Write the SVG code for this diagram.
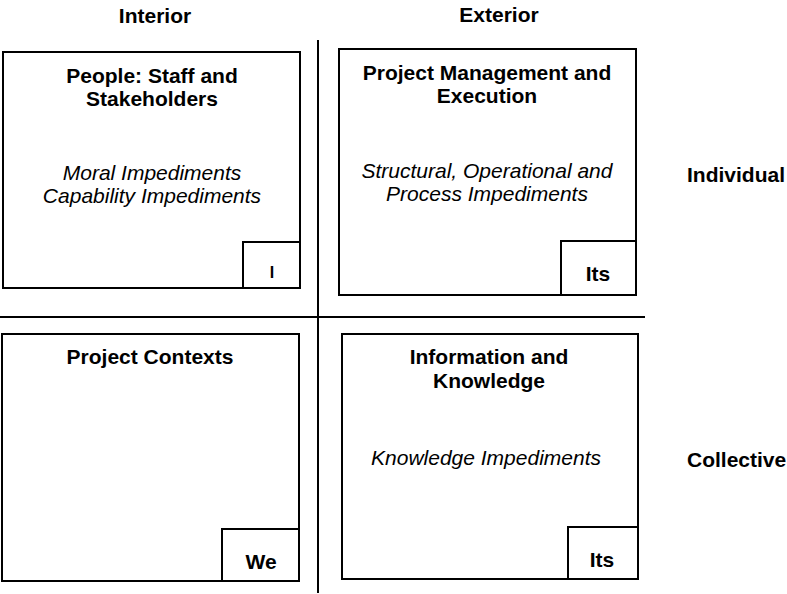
<svg xmlns="http://www.w3.org/2000/svg" width="787" height="594" viewBox="0 0 787 594">
<style>
.box{fill:#fff;stroke:#000;stroke-width:2}
.ln{stroke:#000;stroke-width:2;fill:none}
text{font-family:"Liberation Sans",Arial,sans-serif;font-size:21px;fill:#000;text-anchor:middle}
.b{font-weight:bold}
.i{font-style:italic}
.l{text-anchor:start}
</style>
<rect width="787" height="594" fill="#fff"/>
<g id="axes">
<text class="b" x="155" y="23">Interior</text>
<text class="b" x="499" y="22">Exterior</text>
<text class="b l" x="687" y="182">Individual</text>
<text class="b l" x="687" y="467">Collective</text>
</g>
<g id="connectors">
<line class="ln" x1="318" y1="40" x2="318" y2="593"/>
<line class="ln" x1="0" y1="317" x2="645" y2="317"/>
</g>
<g id="node-i">
<rect class="box" x="3" y="52" width="297" height="236"/>
<text class="b" x="152" y="83">People: Staff and</text>
<text class="b" x="152" y="106">Stakeholders</text>
<text class="i" x="152" y="180">Moral Impediments</text>
<text class="i" x="152" y="203">Capability Impediments</text>
<rect class="box" x="243" y="242" width="57" height="46"/>
<text class="b" x="272" y="278" style="font-size:16px">I</text>
</g>
<g id="node-its-top">
<rect class="box" x="339" y="49" width="297" height="246"/>
<text class="b" x="487" y="80">Project Management and</text>
<text class="b" x="487" y="103">Execution</text>
<text class="i" x="487" y="178">Structural, Operational and</text>
<text class="i" x="487" y="201">Process Impediments</text>
<rect class="box" x="561" y="241" width="75" height="54"/>
<text class="b" x="598" y="281">Its</text>
</g>
<g id="node-we">
<rect class="box" x="2" y="334" width="297" height="247"/>
<text class="b" x="150" y="364">Project Contexts</text>
<rect class="box" x="222" y="529" width="77" height="52"/>
<text class="b" x="261" y="569">We</text>
</g>
<g id="node-its-bottom">
<rect class="box" x="342" y="334" width="296" height="245"/>
<text class="b" x="489" y="364">Information and</text>
<text class="b" x="489" y="388">Knowledge</text>
<text class="i" x="486" y="465">Knowledge Impediments</text>
<rect class="box" x="568" y="527" width="70" height="52"/>
<text class="b" x="602" y="567">Its</text>
</g>
</svg>
